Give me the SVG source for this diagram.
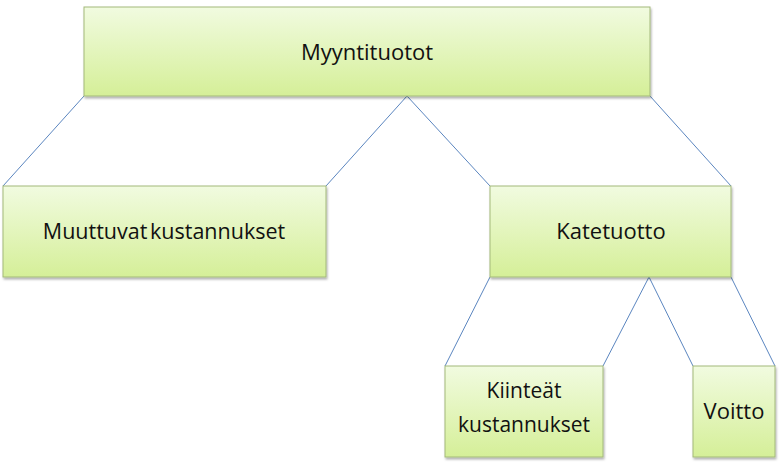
<svg xmlns="http://www.w3.org/2000/svg" width="780" height="464" viewBox="0 0 780 464">
<style>
.box{fill:url(#g);stroke:#a3b97a;stroke-width:1;filter:url(#sh)}
.t{font-family:"Open Sans","Liberation Sans",sans-serif;font-size:22px;fill:#111;text-anchor:middle}
.c{stroke:#5b86c0;stroke-width:1;fill:none}
</style>
<defs>
<linearGradient id="g" x1="0" y1="0" x2="0" y2="1">
<stop offset="0" stop-color="#f1fbe0"/>
<stop offset="1" stop-color="#d5ef98"/>
</linearGradient>
<filter id="sh" x="-5%" y="-5%" width="110%" height="120%">
<feDropShadow dx="1" dy="2" stdDeviation="1.2" flood-color="#000" flood-opacity="0.3"/>
</filter>
</defs>
<rect width="780" height="464" fill="#fff"/>
<g id="connectors">
<line class="c" x1="84" y1="96" x2="3" y2="186"/>
<line class="c" x1="407" y1="96" x2="326" y2="186"/>
<line class="c" x1="407" y1="96" x2="490" y2="186"/>
<line class="c" x1="650" y1="96" x2="731" y2="186"/>
<line class="c" x1="490" y1="277" x2="445" y2="366"/>
<line class="c" x1="649" y1="277" x2="603" y2="366"/>
<line class="c" x1="649" y1="277" x2="693" y2="366"/>
<line class="c" x1="731" y1="277" x2="775" y2="366"/>
</g>
<g id="myyntituotot">
<rect class="box" x="84" y="7" width="566" height="89"/>
<text class="t" x="367" y="60">Myyntituotot</text>
</g>
<g id="muuttuvat">
<rect class="box" x="3" y="186" width="323" height="91"/>
<text class="t" x="164" y="239" word-spacing="-3" style="font-size:21.5px">Muuttuvat kustannukset</text>
</g>
<g id="katetuotto">
<rect class="box" x="490" y="186" width="241" height="91"/>
<text class="t" x="611" y="239">Katetuotto</text>
</g>
<g id="kiinteat">
<rect class="box" x="445" y="366" width="158" height="91"/>
<text class="t" x="524" y="398" style="font-size:21px">Kiinteät</text>
<text class="t" x="524" y="432" style="font-size:21px">kustannukset</text>
</g>
<g id="voitto">
<rect class="box" x="693" y="366" width="82" height="91"/>
<text class="t" x="734" y="419">Voitto</text>
</g>
</svg>
